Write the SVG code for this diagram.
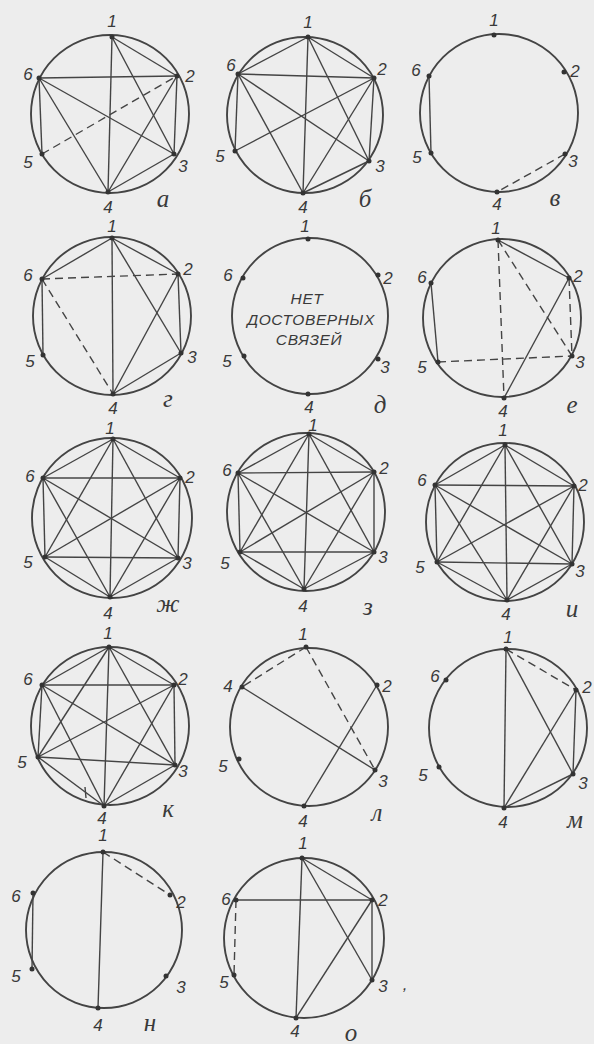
<svg xmlns="http://www.w3.org/2000/svg" width="594" height="1044" viewBox="0 0 594 1044">
<style>
.bg{fill:#ededed}
.ring{fill:none;stroke:#444;stroke-width:1.9}
.e{stroke:#444;stroke-width:1.4;fill:none}
.d{stroke:#444;stroke-width:1.4;fill:none;stroke-dasharray:8 5}
.dot{fill:#333}
.num{font-family:"Liberation Sans",Arial,sans-serif;font-style:italic;font-size:17px;fill:#3a3a3a;text-anchor:middle}
.let{font-family:"Liberation Serif","Times New Roman",serif;font-style:italic;font-size:25px;fill:#3a3a3a;text-anchor:middle}
.msg{font-family:"Liberation Sans",Arial,sans-serif;font-style:italic;font-size:15.5px;fill:#3a3a3a;text-anchor:middle;letter-spacing:0.6px}
</style>
<rect class="bg" x="0" y="0" width="594" height="1044"/>

<!-- а -->
<g id="diag-a">
<circle class="ring" cx="110" cy="114" r="79"/>
<g id="a-edges">
<line class="e" x1="112" y1="37" x2="177" y2="76"/>
<line class="e" x1="112" y1="37" x2="174" y2="154"/>
<line class="e" x1="112" y1="37" x2="108" y2="192"/>
<line class="e" x1="39" y1="78" x2="177" y2="76"/>
<line class="e" x1="39" y1="78" x2="174" y2="154"/>
<line class="e" x1="39" y1="78" x2="108" y2="192"/>
<line class="e" x1="39" y1="78" x2="42" y2="154"/>
<line class="e" x1="177" y1="76" x2="174" y2="154"/>
<line class="e" x1="177" y1="76" x2="108" y2="192"/>
<line class="e" x1="174" y1="154" x2="108" y2="192"/>
<line class="d" x1="42" y1="154" x2="177" y2="76"/>
</g>
<g id="a1"><circle class="dot" cx="112" cy="37" r="2.5"/><text class="num" x="112" y="27">1</text></g>
<g id="a2"><circle class="dot" cx="177" cy="76" r="2.5"/><text class="num" x="190" y="82">2</text></g>
<g id="a3"><circle class="dot" cx="174" cy="154" r="2.5"/><text class="num" x="183" y="172">3</text></g>
<g id="a4"><circle class="dot" cx="108" cy="192" r="2.5"/><text class="num" x="108" y="213">4</text></g>
<g id="a5"><circle class="dot" cx="42" cy="154" r="2.5"/><text class="num" x="28" y="168">5</text></g>
<g id="a6"><circle class="dot" cx="39" cy="78" r="2.5"/><text class="num" x="28" y="80">6</text></g>
<text class="let" x="163" y="207">а</text>
</g>

<!-- б -->
<g id="diag-b">
<circle class="ring" cx="305" cy="115" r="78"/>
<g id="b-edges">
<line class="e" x1="308" y1="37" x2="238" y2="74"/>
<line class="e" x1="308" y1="37" x2="374" y2="78"/>
<line class="e" x1="308" y1="37" x2="369" y2="161"/>
<line class="e" x1="308" y1="37" x2="303" y2="193"/>
<line class="e" x1="238" y1="74" x2="374" y2="78"/>
<line class="e" x1="238" y1="74" x2="369" y2="161"/>
<line class="e" x1="238" y1="74" x2="303" y2="193"/>
<line class="e" x1="238" y1="74" x2="235" y2="151"/>
<line class="e" x1="235" y1="151" x2="374" y2="78"/>
<line class="e" x1="374" y1="78" x2="369" y2="161"/>
<line class="e" x1="374" y1="78" x2="303" y2="193"/>
<line class="e" x1="369" y1="161" x2="303" y2="193"/>
</g>
<g id="b1"><circle class="dot" cx="308" cy="37" r="2.5"/><text class="num" x="308" y="28">1</text></g>
<g id="b2"><circle class="dot" cx="374" cy="78" r="2.5"/><text class="num" x="382" y="75">2</text></g>
<g id="b3"><circle class="dot" cx="369" cy="161" r="2.5"/><text class="num" x="380" y="172">3</text></g>
<g id="b4"><circle class="dot" cx="303" cy="193" r="2.5"/><text class="num" x="303" y="213">4</text></g>
<g id="b5"><circle class="dot" cx="235" cy="151" r="2.5"/><text class="num" x="220" y="162">5</text></g>
<g id="b6"><circle class="dot" cx="238" cy="74" r="2.5"/><text class="num" x="231" y="71">6</text></g>
<text class="let" x="365" y="207">б</text>
</g>

<!-- в -->
<g id="diag-v">
<circle class="ring" cx="499" cy="113" r="79"/>
<g id="v-edges">
<line class="e" x1="429" y1="76" x2="431" y2="153"/>
<line class="d" x1="565" y1="154" x2="497" y2="192"/>
</g>
<g id="v1"><circle class="dot" cx="494" cy="35" r="2.5"/><text class="num" x="494" y="26">1</text></g>
<g id="v2"><circle class="dot" cx="564" cy="72" r="2.5"/><text class="num" x="575" y="77">2</text></g>
<g id="v3"><circle class="dot" cx="565" cy="154" r="2.5"/><text class="num" x="573" y="167">3</text></g>
<g id="v4"><circle class="dot" cx="497" cy="192" r="2.5"/><text class="num" x="497" y="210">4</text></g>
<g id="v5"><circle class="dot" cx="431" cy="153" r="2.5"/><text class="num" x="417" y="163">5</text></g>
<g id="v6"><circle class="dot" cx="429" cy="76" r="2.5"/><text class="num" x="416" y="76">6</text></g>
<text class="let" x="555" y="206">в</text>
</g>

<!-- г -->
<g id="diag-g">
<circle class="ring" cx="112" cy="316" r="79"/>
<g id="g-edges">
<line class="e" x1="112" y1="238" x2="42" y2="279"/>
<line class="e" x1="112" y1="238" x2="178" y2="274"/>
<line class="e" x1="112" y1="238" x2="181" y2="353"/>
<line class="e" x1="112" y1="238" x2="113" y2="394"/>
<line class="e" x1="42" y1="279" x2="43" y2="355"/>
<line class="e" x1="178" y1="274" x2="181" y2="353"/>
<line class="e" x1="178" y1="274" x2="113" y2="394"/>
<line class="e" x1="181" y1="353" x2="113" y2="394"/>
<line class="d" x1="42" y1="279" x2="178" y2="274"/>
<line class="d" x1="42" y1="279" x2="113" y2="394"/>
</g>
<g id="g1"><circle class="dot" cx="112" cy="238" r="2.5"/><text class="num" x="112" y="232">1</text></g>
<g id="g2"><circle class="dot" cx="178" cy="274" r="2.5"/><text class="num" x="188" y="275">2</text></g>
<g id="g3"><circle class="dot" cx="181" cy="353" r="2.5"/><text class="num" x="192" y="363">3</text></g>
<g id="g4"><circle class="dot" cx="113" cy="394" r="2.5"/><text class="num" x="113" y="414">4</text></g>
<g id="g5"><circle class="dot" cx="43" cy="355" r="2.5"/><text class="num" x="30" y="367">5</text></g>
<g id="g6"><circle class="dot" cx="42" cy="279" r="2.5"/><text class="num" x="28" y="281">6</text></g>
<text class="let" x="168" y="407">г</text>
</g>

<!-- д -->
<g id="diag-d">
<circle class="ring" cx="310" cy="316" r="78"/>
<g id="d-edges"></g>
<g id="d1"><circle class="dot" cx="308" cy="239" r="2.5"/><text class="num" x="305" y="232">1</text></g>
<g id="d2"><circle class="dot" cx="378" cy="275" r="2.5"/><text class="num" x="388" y="284">2</text></g>
<g id="d3"><circle class="dot" cx="378" cy="359" r="2.5"/><text class="num" x="385" y="373">3</text></g>
<g id="d4"><circle class="dot" cx="308" cy="394" r="2.5"/><text class="num" x="309" y="413">4</text></g>
<g id="d5"><circle class="dot" cx="244" cy="356" r="2.5"/><text class="num" x="227" y="367">5</text></g>
<g id="d6"><circle class="dot" cx="243" cy="278" r="2.5"/><text class="num" x="228" y="281">6</text></g>
<text class="msg" x="307" y="304">НЕТ</text>
<text class="msg" x="311" y="325">ДОСТОВЕРНЫХ</text>
<text class="msg" x="309" y="345">СВЯЗЕЙ</text>
<text class="let" x="380" y="413">д</text>
</g>

<!-- е -->
<g id="diag-e">
<circle class="ring" cx="502" cy="318" r="79"/>
<g id="e-edges">
<line class="e" x1="498" y1="240" x2="569" y2="278"/>
<line class="e" x1="569" y1="278" x2="504" y2="398"/>
<line class="e" x1="431" y1="283" x2="438" y2="362"/>
<line class="d" x1="498" y1="240" x2="504" y2="398"/>
<line class="d" x1="498" y1="240" x2="572" y2="356"/>
<line class="d" x1="569" y1="278" x2="572" y2="356"/>
<line class="d" x1="438" y1="362" x2="572" y2="356"/>
</g>
<g id="e1"><circle class="dot" cx="498" cy="240" r="2.5"/><text class="num" x="496" y="234">1</text></g>
<g id="e2"><circle class="dot" cx="569" cy="278" r="2.5"/><text class="num" x="578" y="282">2</text></g>
<g id="e3"><circle class="dot" cx="572" cy="356" r="2.5"/><text class="num" x="580" y="368">3</text></g>
<g id="e4"><circle class="dot" cx="504" cy="398" r="2.5"/><text class="num" x="503" y="417">4</text></g>
<g id="e5"><circle class="dot" cx="438" cy="362" r="2.5"/><text class="num" x="422" y="373">5</text></g>
<g id="e6"><circle class="dot" cx="431" cy="283" r="2.5"/><text class="num" x="422" y="283">6</text></g>
<text class="let" x="572" y="413">е</text>
</g>

<!-- ж -->
<g id="diag-zh">
<circle class="ring" cx="112" cy="518" r="80"/>
<g id="zh-edges">
<line class="e" x1="113" y1="439" x2="180" y2="478"/>
<line class="e" x1="113" y1="439" x2="178" y2="558"/>
<line class="e" x1="113" y1="439" x2="110" y2="597"/>
<line class="e" x1="113" y1="439" x2="45" y2="557"/>
<line class="e" x1="113" y1="439" x2="43" y2="478"/>
<line class="e" x1="180" y1="478" x2="178" y2="558"/>
<line class="e" x1="180" y1="478" x2="110" y2="597"/>
<line class="e" x1="180" y1="478" x2="45" y2="557"/>
<line class="e" x1="180" y1="478" x2="43" y2="478"/>
<line class="e" x1="178" y1="558" x2="110" y2="597"/>
<line class="e" x1="178" y1="558" x2="45" y2="557"/>
<line class="e" x1="178" y1="558" x2="43" y2="478"/>
<line class="e" x1="110" y1="597" x2="45" y2="557"/>
<line class="e" x1="110" y1="597" x2="43" y2="478"/>
<line class="e" x1="45" y1="557" x2="43" y2="478"/>
</g>
<g id="zh1"><circle class="dot" cx="113" cy="439" r="2.5"/><text class="num" x="110" y="434">1</text></g>
<g id="zh2"><circle class="dot" cx="180" cy="478" r="2.5"/><text class="num" x="190" y="483">2</text></g>
<g id="zh3"><circle class="dot" cx="178" cy="558" r="2.5"/><text class="num" x="187" y="569">3</text></g>
<g id="zh4"><circle class="dot" cx="110" cy="597" r="2.5"/><text class="num" x="108" y="619">4</text></g>
<g id="zh5"><circle class="dot" cx="45" cy="557" r="2.5"/><text class="num" x="28" y="568">5</text></g>
<g id="zh6"><circle class="dot" cx="43" cy="478" r="2.5"/><text class="num" x="30" y="482">6</text></g>
<text class="let" x="168" y="612">ж</text>
</g>

<!-- з -->
<g id="diag-z">
<circle class="ring" cx="306" cy="512" r="79"/>
<g id="z-edges">
<line class="e" x1="309" y1="434" x2="374" y2="472"/>
<line class="e" x1="309" y1="434" x2="374" y2="552"/>
<line class="e" x1="309" y1="434" x2="304" y2="589"/>
<line class="e" x1="309" y1="434" x2="240" y2="552"/>
<line class="e" x1="309" y1="434" x2="238" y2="473"/>
<line class="e" x1="374" y1="472" x2="374" y2="552"/>
<line class="e" x1="374" y1="472" x2="304" y2="589"/>
<line class="e" x1="374" y1="472" x2="240" y2="552"/>
<line class="e" x1="374" y1="472" x2="238" y2="473"/>
<line class="e" x1="374" y1="552" x2="304" y2="589"/>
<line class="e" x1="374" y1="552" x2="240" y2="552"/>
<line class="e" x1="374" y1="552" x2="238" y2="473"/>
<line class="e" x1="304" y1="589" x2="240" y2="552"/>
<line class="e" x1="304" y1="589" x2="238" y2="473"/>
<line class="e" x1="240" y1="552" x2="238" y2="473"/>
</g>
<g id="z1"><circle class="dot" cx="309" cy="434" r="2.5"/><text class="num" x="313" y="431">1</text></g>
<g id="z2"><circle class="dot" cx="374" cy="472" r="2.5"/><text class="num" x="384" y="474">2</text></g>
<g id="z3"><circle class="dot" cx="374" cy="552" r="2.5"/><text class="num" x="383" y="563">3</text></g>
<g id="z4"><circle class="dot" cx="304" cy="589" r="2.5"/><text class="num" x="303" y="612">4</text></g>
<g id="z5"><circle class="dot" cx="240" cy="552" r="2.5"/><text class="num" x="225" y="569">5</text></g>
<g id="z6"><circle class="dot" cx="238" cy="473" r="2.5"/><text class="num" x="227" y="476">6</text></g>
<text class="let" x="368" y="615">з</text>
</g>

<!-- и -->
<g id="diag-i">
<circle class="ring" cx="505" cy="522" r="79"/>
<g id="i-edges">
<line class="e" x1="505" y1="445" x2="574" y2="486"/>
<line class="e" x1="505" y1="445" x2="572" y2="564"/>
<line class="e" x1="505" y1="445" x2="507" y2="600"/>
<line class="e" x1="505" y1="445" x2="437" y2="562"/>
<line class="e" x1="505" y1="445" x2="435" y2="485"/>
<line class="e" x1="574" y1="486" x2="572" y2="564"/>
<line class="e" x1="574" y1="486" x2="507" y2="600"/>
<line class="e" x1="574" y1="486" x2="437" y2="562"/>
<line class="e" x1="574" y1="486" x2="435" y2="485"/>
<line class="e" x1="572" y1="564" x2="507" y2="600"/>
<line class="e" x1="572" y1="564" x2="437" y2="562"/>
<line class="e" x1="572" y1="564" x2="435" y2="485"/>
<line class="e" x1="507" y1="600" x2="437" y2="562"/>
<line class="e" x1="507" y1="600" x2="435" y2="485"/>
<line class="e" x1="437" y1="562" x2="435" y2="485"/>
</g>
<g id="i1"><circle class="dot" cx="505" cy="445" r="2.5"/><text class="num" x="503" y="436">1</text></g>
<g id="i2"><circle class="dot" cx="574" cy="486" r="2.5"/><text class="num" x="583" y="491">2</text></g>
<g id="i3"><circle class="dot" cx="572" cy="564" r="2.5"/><text class="num" x="580" y="577">3</text></g>
<g id="i4"><circle class="dot" cx="507" cy="600" r="2.5"/><text class="num" x="506" y="620">4</text></g>
<g id="i5"><circle class="dot" cx="437" cy="562" r="2.5"/><text class="num" x="420" y="573">5</text></g>
<g id="i6"><circle class="dot" cx="435" cy="485" r="2.5"/><text class="num" x="422" y="486">6</text></g>
<text class="let" x="572" y="617">и</text>
</g>

<!-- к -->
<g id="diag-k">
<circle class="ring" cx="110" cy="726" r="79"/>
<g id="k-edges">
<line class="e" x1="109" y1="647" x2="174" y2="685"/>
<line class="e" x1="109" y1="647" x2="175" y2="765"/>
<line class="e" x1="109" y1="647" x2="104" y2="806"/>
<line class="e" x1="109" y1="647" x2="38" y2="757"/>
<line class="e" x1="109" y1="647" x2="42" y2="685"/>
<line class="e" x1="174" y1="685" x2="175" y2="765"/>
<line class="e" x1="174" y1="685" x2="104" y2="806"/>
<line class="e" x1="174" y1="685" x2="38" y2="757"/>
<line class="e" x1="174" y1="685" x2="42" y2="685"/>
<line class="e" x1="175" y1="765" x2="104" y2="806"/>
<line class="e" x1="175" y1="765" x2="38" y2="757"/>
<line class="e" x1="175" y1="765" x2="42" y2="685"/>
<line class="e" x1="104" y1="806" x2="38" y2="757"/>
<line class="e" x1="104" y1="806" x2="42" y2="685"/>
<line class="e" x1="38" y1="757" x2="42" y2="685"/>
<line class="e" x1="85" y1="787" x2="86" y2="798"/>
</g>
<g id="k1"><circle class="dot" cx="109" cy="647" r="2.5"/><text class="num" x="108" y="639">1</text></g>
<g id="k2"><circle class="dot" cx="174" cy="685" r="2.5"/><text class="num" x="183" y="685">2</text></g>
<g id="k3"><circle class="dot" cx="175" cy="765" r="2.5"/><text class="num" x="183" y="777">3</text></g>
<g id="k4"><circle class="dot" cx="104" cy="806" r="2.5"/><text class="num" x="102" y="824">4</text></g>
<g id="k5"><circle class="dot" cx="38" cy="757" r="2.5"/><text class="num" x="22" y="768">5</text></g>
<g id="k6"><circle class="dot" cx="42" cy="685" r="2.5"/><text class="num" x="28" y="685">6</text></g>
<text class="let" x="168" y="817">к</text>
</g>

<!-- л -->
<g id="diag-l">
<circle class="ring" cx="309" cy="727" r="79"/>
<g id="l-edges">
<line class="e" x1="242" y1="687" x2="375" y2="770"/>
<line class="e" x1="377" y1="685" x2="304" y2="806"/>
<line class="d" x1="306" y1="647" x2="242" y2="687"/>
<line class="d" x1="306" y1="647" x2="375" y2="770"/>
</g>
<g id="l1"><circle class="dot" cx="306" cy="647" r="2.5"/><text class="num" x="303" y="640">1</text></g>
<g id="l2"><circle class="dot" cx="377" cy="685" r="2.5"/><text class="num" x="387" y="692">2</text></g>
<g id="l3"><circle class="dot" cx="375" cy="770" r="2.5"/><text class="num" x="383" y="787">3</text></g>
<g id="l4b"><circle class="dot" cx="304" cy="806" r="2.5"/><text class="num" x="303" y="827">4</text></g>
<g id="l5"><circle class="dot" cx="239" cy="759" r="2.5"/><text class="num" x="223" y="772">5</text></g>
<g id="l4a"><circle class="dot" cx="242" cy="687" r="2.5"/><text class="num" x="228" y="692">4</text></g>
<text class="let" x="377" y="821">л</text>
</g>

<!-- м -->
<g id="diag-m">
<circle class="ring" cx="508" cy="728" r="79"/>
<g id="m-edges">
<line class="e" x1="506" y1="649" x2="504" y2="808"/>
<line class="e" x1="506" y1="649" x2="573" y2="774"/>
<line class="e" x1="576" y1="690" x2="573" y2="774"/>
<line class="e" x1="576" y1="690" x2="504" y2="808"/>
<line class="e" x1="573" y1="774" x2="504" y2="808"/>
<line class="d" x1="506" y1="649" x2="576" y2="690"/>
</g>
<g id="m1"><circle class="dot" cx="506" cy="649" r="2.5"/><text class="num" x="508" y="643">1</text></g>
<g id="m2"><circle class="dot" cx="576" cy="690" r="2.5"/><text class="num" x="587" y="693">2</text></g>
<g id="m3"><circle class="dot" cx="573" cy="774" r="2.5"/><text class="num" x="583" y="789">3</text></g>
<g id="m4"><circle class="dot" cx="504" cy="808" r="2.5"/><text class="num" x="503" y="828">4</text></g>
<g id="m5"><circle class="dot" cx="439" cy="767" r="2.5"/><text class="num" x="423" y="781">5</text></g>
<g id="m6"><circle class="dot" cx="446" cy="680" r="2.5"/><text class="num" x="435" y="682">6</text></g>
<text class="let" x="575" y="828">м</text>
</g>

<!-- н -->
<g id="diag-n">
<circle class="ring" cx="104" cy="930" r="78"/>
<g id="n-edges">
<line class="e" x1="103" y1="852" x2="98" y2="1008"/>
<line class="e" x1="33" y1="893" x2="32" y2="969"/>
<line class="d" x1="103" y1="852" x2="170" y2="895"/>
</g>
<g id="n1"><circle class="dot" cx="103" cy="852" r="2.5"/><text class="num" x="103" y="841">1</text></g>
<g id="n2"><circle class="dot" cx="170" cy="895" r="2.5"/><text class="num" x="181" y="908">2</text></g>
<g id="n3"><circle class="dot" cx="166" cy="976" r="2.5"/><text class="num" x="181" y="993">3</text></g>
<g id="n4"><circle class="dot" cx="98" cy="1008" r="2.5"/><text class="num" x="98" y="1031">4</text></g>
<g id="n5"><circle class="dot" cx="32" cy="969" r="2.5"/><text class="num" x="16" y="982">5</text></g>
<g id="n6"><circle class="dot" cx="33" cy="893" r="2.5"/><text class="num" x="16" y="902">6</text></g>
<text class="let" x="150" y="1031">н</text>
</g>

<!-- о -->
<g id="diag-o">
<circle class="ring" cx="304" cy="938" r="80"/>
<g id="o-edges">
<line class="e" x1="236" y1="900" x2="372" y2="900"/>
<line class="e" x1="302" y1="858" x2="372" y2="900"/>
<line class="e" x1="302" y1="858" x2="372" y2="980"/>
<line class="e" x1="302" y1="858" x2="296" y2="1018"/>
<line class="e" x1="372" y1="900" x2="372" y2="980"/>
<line class="e" x1="372" y1="900" x2="296" y2="1018"/>
<line class="d" x1="236" y1="900" x2="234" y2="975"/>
</g>
<g id="o1"><circle class="dot" cx="302" cy="858" r="2.5"/><text class="num" x="303" y="849">1</text></g>
<g id="o2"><circle class="dot" cx="372" cy="900" r="2.5"/><text class="num" x="383" y="906">2</text></g>
<g id="o3"><circle class="dot" cx="372" cy="980" r="2.5"/><text class="num" x="383" y="992">3</text></g>
<g id="o4"><circle class="dot" cx="296" cy="1018" r="2.5"/><text class="num" x="295" y="1037">4</text></g>
<g id="o5"><circle class="dot" cx="234" cy="975" r="2.5"/><text class="num" x="224" y="988">5</text></g>
<g id="o6"><circle class="dot" cx="236" cy="900" r="2.5"/><text class="num" x="226" y="905">6</text></g>
<text class="let" x="351" y="1041">о</text>
<text class="num" x="405" y="990">,</text>
</g>
</svg>
